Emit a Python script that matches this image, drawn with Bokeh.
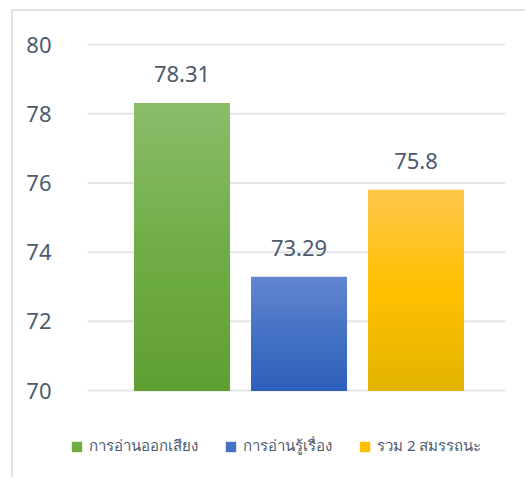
from bokeh.plotting import figure
from bokeh.models import ColumnDataSource, Legend, LegendItem, FixedTicker, LabelSet
from bokeh.embed import file_html
from bokeh.resources import INLINE
from bokeh.core.properties import value

categories = ["การอ่านออกเสียง", "การอ่านรู้เรื่อง", "รวม 2 สมรรถนะ"]
scores = [78.31, 73.29, 75.8]
score_labels = ["78.31", "73.29", "75.8"]
y_ticks = [70, 72, 74, 76, 78, 80]

top_colors = [(0x8a, 0xbd, 0x6b), (0x63, 0x86, 0xd0), (0xff, 0xc6, 0x4a)]
mid_colors = [(0x70, 0xad, 0x47), (0x44, 0x72, 0xc4), (0xff, 0xc0, 0x00)]
bot_colors = [(0x60, 0x9f, 0x32), (0x2e, 0x60, 0xba), (0xe3, 0xb4, 0x00)]

TEXT = "#4d5a6e"
FONT = "Noto Sans"
GRID_X0, GRID_X1 = 0.192, 3.765

p = figure(width=514, height=468, output_backend="svg", toolbar_location=None,
           x_range=(-0.0214, GRID_X1), y_range=(67.69, 80.03),
           min_border_left=49, min_border_right=22, min_border_top=32, min_border_bottom=9)
p.styles = {"border-top": "2px solid #dfe3e9", "border-left": "2px solid #dfe3e9",
            "margin-left": "11px", "margin-top": "9px"}
p.outline_line_color = None
p.xaxis.visible = False
p.xgrid.visible = False
p.ygrid.visible = False
p.yaxis.ticker = FixedTicker(ticks=y_ticks)
p.yaxis.axis_line_color = None
p.yaxis.major_tick_line_color = None
p.yaxis.minor_tick_line_color = None
p.yaxis.major_label_text_font_size = "22px"
p.yaxis.major_label_text_color = TEXT
p.yaxis.major_label_text_font = FONT
p.yaxis.major_label_standoff = 5

# horizontal gridlines at the tick values, spanning the plot area
p.segment(x0=[GRID_X0] * len(y_ticks), x1=[GRID_X1] * len(y_ticks), y0=y_ticks, y1=y_ticks,
          line_color="#e1e5ea", line_width=2)

xs = [1, 2, 3]
width = 0.82
base = 70

def mix(a, b, t):
    return "#%02x%02x%02x" % tuple(int(round(a[i] + (b[i] - a[i]) * t)) for i in range(3))

items = []
n = 60
for i, (x, v) in enumerate(zip(xs, scores)):
    r = p.vbar(x=[x], top=[base], bottom=base, width=width, fill_color=mix(mid_colors[i], mid_colors[i], 0), line_color=None)
    tops, cols = [], []
    # overlapping layers drawn from the top slice downwards -> smooth vertical gradient
    for k in range(n - 1, -1, -1):
        b1 = base + (v - base) * (k + 1) / n
        t = (k + 0.5) / n  # 0 bottom, 1 top
        if t < 0.5:
            c = mix(bot_colors[i], mid_colors[i], t / 0.5)
        else:
            c = mix(mid_colors[i], top_colors[i], (t - 0.5) / 0.5)
        tops.append(b1); cols.append(c)
    src = ColumnDataSource(dict(x=[x] * n, top=tops, color=cols))
    p.vbar(x="x", bottom=base, top="top", width=width, fill_color="color", line_color=None, source=src)
    items.append(LegendItem(label=categories[i], renderers=[r]))

lsrc = ColumnDataSource(dict(x=xs, y=scores, t=score_labels))
labels = LabelSet(x="x", y="y", text="t", source=lsrc, text_align="center", text_baseline="middle",
                  y_offset=29, text_font_size="22px", text_color=TEXT, text_font=value(FONT))
p.add_layout(labels)

legend = Legend(items=items, orientation="horizontal", location=(8, 12),
                label_text_font_size="15px", label_text_color=TEXT, label_text_font=FONT,
                glyph_width=13, glyph_height=13, label_standoff=6, spacing=26,
                padding=0, margin=0, border_line_color=None, background_fill_alpha=0)
p.add_layout(legend, "center")

open("out.html", "w").write(file_html(p, INLINE))
